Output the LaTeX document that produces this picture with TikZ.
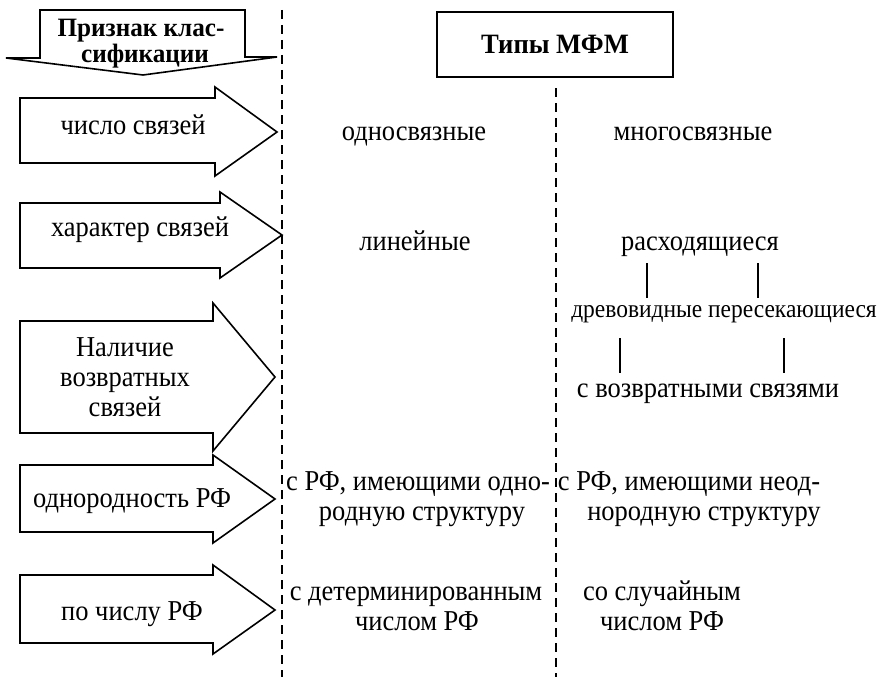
\documentclass[tikz,border=0pt]{standalone}
\usepackage{fontspec}
\setmainfont{Liberation Serif}[FakeStretch=0.92]
\newfontfamily\hdfont{Liberation Serif}[FakeStretch=0.95]
\begin{document}
\begin{tikzpicture}[x=1pt,y=-1pt,
  outl/.style={draw=black,line width=1.6pt,line join=miter,fill=white},
  sep/.style={draw=black,line width=1.6pt,dash pattern=on 9pt off 6pt},
  txt/.style={inner sep=0pt,anchor=base,font=\fontsize{28.8}{30}\selectfont},
  small/.style={inner sep=0pt,anchor=base,font=\fontsize{25.5}{28}\selectfont},
  head/.style={inner sep=0pt,anchor=base,font=\hdfont\bfseries\fontsize{26.5}{28}\selectfont},
  tie/.style={draw=black,line width=1.6pt}]
\useasboundingbox (0,0) rectangle (883,677);
\fill[white] (0,0) rectangle (883,677);
% separators
\draw[sep] (282,10) -- (282,677);
\draw[sep] (556,88) -- (556,677);
% header arrow
\draw[outl] (40,10) -- (245,10) -- (245,57) -- (277,57) -- (143,75) -- (6,58) -- (40,58) -- cycle;
\node[head] (hdr1) at (141,37) {Признак клас-};
\node[head] (hdr2) at (145,63) {сификации};
% types box
\draw[outl] (437,12) rectangle (673,77);
\node[head,font=\hdfont\bfseries\fontsize{28}{30}\selectfont] (types) at (555,54) {Типы МФМ};
% arrows
\draw[outl] (20,98) -- (215,98) -- (215,87) -- (277,132) -- (215,176) -- (215,163) -- (20,163) -- cycle;
\node[txt] (a1) at (133,134) {число связей};
\draw[outl] (20,203) -- (220,203) -- (220,192) -- (282,235) -- (220,278) -- (220,268) -- (20,268) -- cycle;
\node[txt] (a2) at (140,236) {характер связей};
\draw[outl] (20,321) -- (213,321) -- (213,303) -- (275,377) -- (213,451) -- (213,433) -- (20,433) -- cycle;
\node[txt] (a3a) at (125,356) {Наличие};
\node[txt] (a3b) at (125,386) {возвратных};
\node[txt] (a3c) at (125,416) {связей};
\draw[outl] (20,465) -- (213,465) -- (213,455) -- (275,499) -- (213,543) -- (213,532) -- (20,532) -- cycle;
\node[txt] (a4) at (132,507) {однородность РФ};
\draw[outl] (20,575) -- (213,575) -- (213,565) -- (275,610) -- (213,654) -- (213,643) -- (20,643) -- cycle;
\node[txt] (a5) at (132,620) {по числу РФ};
% column texts
\node[txt] (t11) at (414,140) {односвязные};
\node[txt] (t12) at (693,140) {многосвязные};
\node[txt] (t21) at (415,250) {линейные};
\node[txt] (t22) at (700,250) {расходящиеся};
\node[small] (t23) at (724,317) {древовидные пересекающиеся};
\node[txt] (t24) at (708,397) {с возвратными связями};
\node[txt] (t41a) at (418,490) {с РФ, имеющими одно-};
\node[txt] (t41b) at (422,520) {родную структуру};
\node[txt] (t42a) at (689,490) {с РФ, имеющими неод-};
\node[txt] (t42b) at (704,520) {нородную структуру};
\node[txt] (t51a) at (416,600) {с детерминированным};
\node[txt] (t51b) at (417,630) {числом РФ};
\node[txt] (t52a) at (662,600) {со случайным};
\node[txt] (t52b) at (662,630) {числом РФ};
% tree ties
\coordinate (p1) at (647,263); \coordinate (q1) at (647,298);
\coordinate (p2) at (758,263); \coordinate (q2) at (758,298);
\coordinate (p3) at (620,338); \coordinate (q3) at (620,373);
\coordinate (p4) at (784,338); \coordinate (q4) at (784,373);
\draw[tie] (p1) -- (q1);
\draw[tie] (p2) -- (q2);
\draw[tie] (p3) -- (q3);
\draw[tie] (p4) -- (q4);
\end{tikzpicture}
\end{document}
